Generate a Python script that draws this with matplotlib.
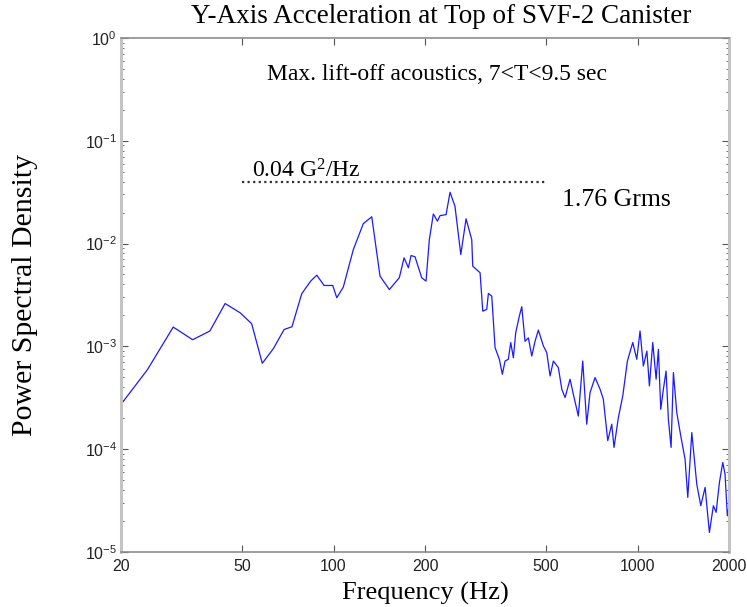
# PSD plot - Y-axis acceleration, SVF-2 canister (lift-off acoustics)

import math
import matplotlib
matplotlib.use('Agg')
import matplotlib.pyplot as plt
from matplotlib.ticker import FixedLocator, FuncFormatter, NullLocator, LogLocator

plt.rcParams['mathtext.fontset'] = 'custom'
plt.rcParams['mathtext.rm'] = 'Liberation Serif'
plt.rcParams['mathtext.sf'] = 'Liberation Sans'
plt.rcParams['mathtext.it'] = 'Liberation Serif:italic'

# frequency (Hz) and PSD (G^2/Hz)
freq = [20, 24.4, 29.7, 34.4, 39.2, 44.0, 49.3, 53.8, 58.3, 63.4,
        68.8, 73.0, 78.6, 84.1, 88.1, 93.1, 99.4, 102.5, 107.7, 116.2,
        125.3, 133.6, 142.2, 152.6, 164.6, 170.6, 176.3, 179.9, 185.4, 195.0,
        201.5, 206.6, 213.0, 219.6, 224.1, 234.5, 241.7, 250.9, 262.2, 272.9,
        284.9, 287.0, 303.4, 309.7, 319.2, 323.1, 331.5, 339.9, 351.1, 359.2,
        366.6, 375.8, 382.7, 390.4, 397.5, 408.5, 416.0, 426.5, 437.4, 448.8,
        460.1, 471.8, 490.0, 502.8, 515.6, 528.5, 549.0, 563.4, 577.6, 599.8,
        614.9, 638.6, 660.3, 680.5, 697.8, 724.8, 752.8, 771.8, 798.0, 822.4,
        836.9, 864.8, 894.0, 926.0, 964.4, 994.2, 1019, 1045, 1073, 1094,
        1122, 1151, 1171, 1192, 1216, 1241, 1263, 1289, 1312, 1346,
        1387, 1433, 1463, 1508, 1566, 1614, 1668, 1723, 1776, 1813,
        1859, 1907, 1940, 1974, 2000]
psd = [2.73e-4, 5.9e-4, 1.54e-3, 1.16e-3, 1.41e-3, 2.61e-3, 2.12e-3, 1.66e-3, 6.84e-4, 9.5e-4,
       1.46e-3, 1.55e-3, 3.25e-3, 4.31e-3, 4.92e-3, 3.91e-3, 3.91e-3, 2.97e-3, 3.77e-3, 8.75e-3,
       1.56e-2, 1.82e-2, 4.82e-3, 3.57e-3, 4.65e-3, 7.26e-3, 5.81e-3, 7.64e-3, 7.43e-3, 4.65e-3,
       4.31e-3, 1.09e-2, 1.94e-2, 1.65e-2, 1.87e-2, 1.91e-2, 3.15e-2, 2.30e-2, 7.82e-3, 1.74e-2,
       1.09e-2, 6.03e-3, 5.20e-3, 2.20e-3, 2.29e-3, 3.27e-3, 3.08e-3, 9.71e-4, 7.48e-4, 5.35e-4,
       7.20e-4, 7.48e-4, 1.09e-3, 7.76e-4, 1.36e-3, 1.97e-3, 2.43e-3, 1.12e-3, 1.21e-3, 8.05e-4,
       1.12e-3, 1.44e-3, 1.01e-3, 8.69e-4, 5.15e-4, 7.20e-4, 6.21e-4, 3.83e-4, 3.18e-4, 4.79e-4,
       3.42e-4, 2.10e-4, 7.20e-4, 1.75e-4, 3.55e-4, 4.97e-4, 3.83e-4, 3.06e-4, 1.21e-4, 1.75e-4,
       1.04e-4, 2.03e-4, 3.29e-4, 7.20e-4, 1.09e-3, 7.48e-4, 1.41e-3, 6.44e-4, 9.00e-4, 4.12e-4,
       1.09e-3, 4.79e-4, 9.35e-4, 2.44e-4, 3.83e-4, 5.75e-4, 1.95e-4, 1.04e-4, 5.56e-4, 2.27e-4,
       1.35e-4, 8.0e-5, 3.40e-5, 1.45e-4, 4.57e-5, 2.82e-5, 4.25e-5, 1.55e-5, 2.82e-5, 2.43e-5,
       4.75e-5, 7.43e-5, 5.71e-5, 2.25e-5, 2.82e-5]

level = 0.04
level_range = [50, 500]
x_ticks = [20, 50, 100, 200, 500, 1000, 2000]
y_ticks = [1e-5, 1e-4, 1e-3, 1e-2, 1e-1, 1e0]

fig = plt.figure(figsize=(7.47, 6.07), dpi=100)
ax = fig.add_axes([0.162, 0.0906, 0.814, 0.847])

ax.plot(freq, psd, color='#1a1aff', linewidth=0.9)
ax.hlines(level, level_range[0], level_range[1], colors='#333333',
          linestyles=(0, (1, 1.5)), linewidth=1.6)

ax.set_xscale('log')
ax.set_yscale('log')
ax.set_xlim(20, 2000)
ax.set_ylim(1e-5, 1)

ax.xaxis.set_major_locator(FixedLocator(x_ticks))
ax.xaxis.set_major_formatter(FuncFormatter(lambda v, p: '%d' % v))
ax.xaxis.set_minor_locator(NullLocator())
ax.yaxis.set_major_locator(FixedLocator(y_ticks))
ax.yaxis.set_major_formatter(FuncFormatter(
    lambda v, p: r'$\mathsf{10^{%d}}$' % round(math.log10(v))))
ax.yaxis.set_minor_locator(LogLocator(base=10, subs=range(2, 10)))

ax.tick_params(which='both', direction='in', top=True, right=True,
               color='#555555', labelcolor='#222222')
ax.tick_params(which='major', length=5, width=0.8, labelsize=11.5)
ax.tick_params(axis='x', pad=5)
ax.tick_params(axis='y', pad=3)
ax.tick_params(which='minor', length=2, width=0.6)
for lab in ax.get_xticklabels():
    lab.set_family('Liberation Sans')

for side in ['left', 'right']:
    ax.spines[side].set_color('#c4c4c4')
    ax.spines[side].set_linewidth(2.2)
for side in ['top', 'bottom']:
    ax.spines[side].set_color('#8c8c8c')
    ax.spines[side].set_linewidth(1.2)

serif = 'Liberation Serif'
fig.text(0.590, 0.972, 'Y-Axis Acceleration at Top of SVF-2 Canister',
         family=serif, fontsize=19.5, ha='center', va='center')
ax.set_xlabel('Frequency (Hz)', family=serif, fontsize=19, labelpad=6)
fig.text(0.034, 0.514, 'Power Spectral Density', family=serif, fontsize=21.5,
         rotation=90, ha='center', va='center')

ax.text(0.52, 0.928, 'Max. lift-off acoustics, 7<T<9.5 sec', transform=ax.transAxes,
        family=serif, fontsize=17, ha='center', va='center')
ax.text(53.9, 0.0435, r'0.04 G$^{\mathrm{2}}$/Hz', family=serif, fontsize=17,
        ha='left', va='baseline')
ax.text(0.725, 0.685, '1.76 Grms', transform=ax.transAxes,
        family=serif, fontsize=18.5, ha='left', va='center')

plt.savefig('out.png', dpi=100)
